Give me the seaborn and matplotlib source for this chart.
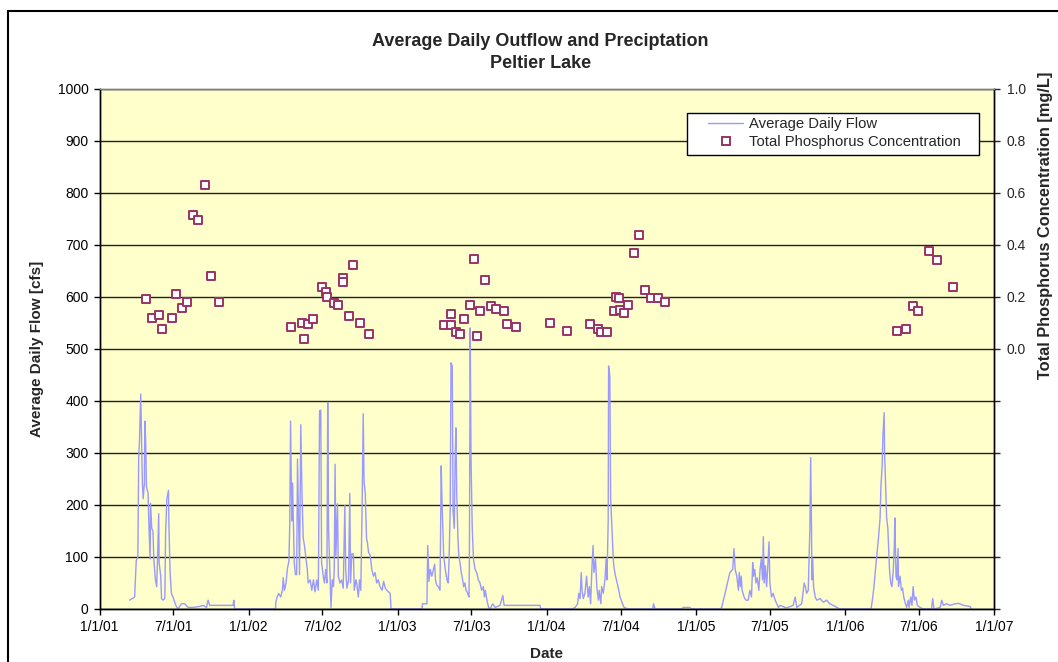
import numpy as np
import pandas as pd
import matplotlib
matplotlib.use('Agg')
import matplotlib.pyplot as plt
from matplotlib.lines import Line2D
from matplotlib.legend_handler import HandlerLine2D
from matplotlib.patches import Rectangle
import seaborn as sns

#%% data (days after 1/1/01)
start = pd.Timestamp('2001-01-01')

flow_days = [74, 86, 90, 94, 96, 98, 101, 103, 105, 107, 110, 111, 113, 115, 119, 121, 124, 125, 128, 131,
             133, 137, 140, 142, 145, 146, 150, 152, 155, 160, 162, 165, 169, 170, 173, 176, 180, 187, 192, 201,
             209, 217, 229, 246, 254, 262, 266, 270, 327, 329, 331,
             431, 432, 435, 439, 444, 448, 450, 453, 457, 460, 464, 466, 468, 470, 471, 473, 475, 477, 480,
             483, 485, 488, 490, 493, 496, 499, 502, 506, 509, 511, 516, 520, 524, 528, 532, 536, 539, 542, 544,
             548, 551, 554, 557, 559, 561, 565, 567, 570, 573, 575, 577, 579, 583, 585, 589, 593, 597, 601, 603,
             606, 610, 613, 615, 618, 622, 624, 628, 630, 634, 637, 640, 643, 646, 648, 651, 654, 656, 659, 663,
             667, 671, 675, 679, 683, 687, 692, 696, 700, 704, 708, 712, 714,
             790, 791, 802, 804, 807, 810, 814, 818, 821, 823, 826, 830, 834, 837, 839, 843, 847, 851, 854, 856,
             859, 861, 864, 866, 869, 871, 873, 875, 878, 880, 883, 886, 888, 892, 895, 898, 902, 905, 906, 908,
             910, 913, 916, 920, 924, 928, 932, 936, 940, 943, 945, 949, 953, 957, 963, 969, 981, 988, 991, 1030,
             1079, 1081,
             1158, 1165, 1171, 1174, 1177, 1180, 1182, 1185, 1189, 1193, 1197, 1200, 1203, 1206, 1209, 1211, 1215,
             1218, 1222, 1224, 1228, 1230, 1234, 1238, 1241, 1243, 1246, 1247, 1250, 1252, 1255, 1257, 1259, 1261,
             1264, 1268, 1272, 1275, 1278, 1281, 1285, 1295, 1355, 1357, 1361, 1426, 1430, 1446, 1450,
             1520, 1524, 1528, 1534, 1540, 1544, 1551, 1554, 1557, 1561, 1565, 1567, 1570, 1572, 1574, 1579, 1583,
             1589, 1593, 1597, 1600, 1602, 1605, 1608, 1611, 1615, 1618, 1621, 1624, 1626, 1628, 1631, 1634, 1637,
             1640, 1642, 1646, 1650, 1655, 1659, 1663, 1667, 1683, 1699, 1704, 1708, 1720, 1726, 1729, 1732, 1736,
             1740, 1742, 1744, 1745, 1747, 1749, 1753, 1757, 1765, 1773, 1781, 1789, 1797, 1806, 1814,
             1890, 1894, 1897, 1900, 1904, 1908, 1912, 1914, 1917, 1919, 1922, 1923, 1926, 1928, 1931, 1935, 1938,
             1941, 1944, 1947, 1948, 1951, 1953, 1956, 1957, 1961, 1964, 1967, 1970, 1974, 1977, 1981, 1983, 1987,
             1990, 1993, 1996, 2000, 2003, 2010, 2018, 2038, 2041, 2044, 2059, 2063, 2067, 2075, 2083, 2091, 2104,
             2116, 2132, 2136]

flow_cfs = [17, 23, 93, 100, 291, 325, 413, 328, 242, 212, 242, 361, 328, 235, 222, 162, 96, 203, 155, 149,
            96, 56, 43, 89, 183, 89, 63, 20, 17, 20, 149, 212, 228, 162, 70, 30, 23, 7, 0, 10,
            10, 3, 3, 5, 7, 3, 17, 7, 7, 17, 0,
            0, 13, 23, 30, 23, 36, 60, 36, 50, 76, 93, 162, 361, 242, 169, 242, 169, 89, 66,
            66, 288, 155, 66, 354, 222, 136, 122, 96, 76, 50, 56, 36, 56, 33, 56, 36, 381, 382, 89,
            63, 50, 76, 50, 397, 155, 50, 3, 56, 43, 76, 278, 103, 202, 63, 50, 56, 40, 199, 76,
            40, 56, 222, 50, 106, 106, 36, 56, 50, 23, 56, 36, 182, 375, 245, 222, 136, 129, 109, 103,
            76, 63, 70, 50, 56, 43, 36, 53, 40, 36, 33, 30, 0,
            0, 10, 10, 122, 53, 76, 63, 76, 86, 56, 46, 43, 36, 275, 205, 103, 76, 56, 50, 89,
            189, 473, 467, 189, 155, 288, 348, 222, 136, 103, 89, 70, 63, 43, 50, 36, 30, 23, 89, 540,
            288, 155, 96, 76, 70, 56, 50, 36, 43, 23, 36, 17, 3, 0, 10, 3, 7, 26, 7, 7,
            7, 0,
            0, 3, 10, 30, 20, 70, 36, 20, 30, 63, 23, 43, 10, 76, 122, 70, 96,
            43, 17, 36, 10, 43, 30, 56, 96, 56, 169, 467, 447, 212, 155, 122, 89, 76,
            63, 50, 36, 23, 17, 10, 3, 0, 0, 10, 0, 0, 3, 3, 0,
            0, 3, 16, 36, 56, 70, 76, 116, 76, 63, 36, 70, 43, 63, 36, 23, 17,
            17, 36, 23, 89, 63, 76, 50, 60, 36, 76, 96, 56, 139, 50, 83, 43, 83,
            129, 50, 23, 30, 17, 10, 3, 7, 2, 7, 23, 3, 10, 50, 43, 30, 36,
            155, 291, 155, 56, 96, 43, 23, 17, 20, 13, 17, 10, 7, 3, 0,
            0, 23, 43, 70, 103, 136, 175, 235, 275, 334, 377, 301, 222, 175, 155, 76, 50,
            43, 70, 122, 175, 63, 56, 116, 43, 63, 36, 40, 23, 10, 3, 17, 3, 23,
            7, 43, 17, 23, 7, 3, 0, 0, 20, 0, 3, 17, 7, 10, 7, 9, 11,
            7, 5, 0]

tp_days = [113, 129, 146, 154, 178, 187, 201, 214, 228, 241, 259, 273, 293,
           469, 496, 500, 510, 524, 544, 555, 558, 575, 584, 596, 596, 612, 622, 639, 660,
           845, 860, 860, 874, 883, 894, 907, 918, 924, 931, 944, 958, 971, 992, 999, 1019,
           1104, 1144, 1202, 1222, 1228, 1242, 1259, 1266, 1273, 1276, 1284, 1294, 1310, 1321,
           1337, 1351, 1368, 1384,
           1954, 1975, 1992, 2005, 2032, 2052, 2090]

tp_conc = [0.19, 0.12, 0.13, 0.075, 0.12, 0.21, 0.155, 0.18, 0.515, 0.495, 0.63, 0.28, 0.18,
           0.085, 0.10, 0.037, 0.095, 0.116, 0.238, 0.219, 0.20, 0.176, 0.17, 0.27, 0.256, 0.127, 0.32, 0.10, 0.058,
           0.09, 0.132, 0.09, 0.064, 0.058, 0.113, 0.17, 0.346, 0.048, 0.144, 0.265, 0.165, 0.154, 0.144, 0.095, 0.085,
           0.10, 0.069, 0.095, 0.074, 0.064, 0.064, 0.144, 0.20, 0.196, 0.15, 0.139, 0.17, 0.366, 0.436,
           0.224, 0.196, 0.196, 0.18,
           0.069, 0.074, 0.166, 0.144, 0.377, 0.34, 0.238]

flow = pd.DataFrame({'Date': start + pd.to_timedelta(flow_days, unit='D'), 'Flow': flow_cfs})
tp = pd.DataFrame({'Date': start + pd.to_timedelta(tp_days, unit='D'), 'TP': tp_conc})

#%% plot
sns.set_theme(style='ticks')
plt.rcParams['font.family'] = ['Liberation Sans', 'DejaVu Sans']

line_col = '#9999FF'
mark_col = '#993366'

fig = plt.figure(figsize=(10.58, 6.62), dpi=100)
ax = fig.add_axes([99.5 / 1058, 53 / 662, 894.5 / 1058, 520.5 / 662])
ax.set_facecolor('#FFFFCC')

sns.lineplot(data=flow, x='Date', y='Flow', ax=ax, color=line_col, lw=1,
             estimator=None, sort=False, legend=False)

ax.set_ylim(0, 1000)
ax.set_yticks(range(0, 1001, 100))
ax.set_xlim(pd.Timestamp('2001-01-01'), pd.Timestamp('2007-01-01'))
xt = pd.date_range('2001-01-01', '2007-01-01', freq='6MS')
ax.set_xticks(xt)
ax.set_xticklabels([f'{d.month}/{d.day}/{d.strftime("%y")}' for d in xt])
ax.yaxis.grid(True, color='#222222', lw=1)
ax.set_axisbelow(True)
ax.tick_params(axis='both', direction='out', length=4, width=1, labelsize=10, colors='black', pad=4)
ax.set_xlabel('Date', fontsize=11, fontweight='bold', labelpad=9)
ax.set_ylabel('Average Daily Flow [cfs]', fontsize=11, fontweight='bold')
ax.yaxis.set_label_coords(-0.062, 0.5)

ax2 = ax.twinx()
sns.scatterplot(data=tp, x='Date', y='TP', ax=ax2, marker='s', s=40, color='white',
                edgecolor=mark_col, linewidth=1.4, legend=False, zorder=3)
ax2.set_ylim(-1.0, 1.0)
rt = np.linspace(-1.0, 1.0, 11)
ax2.set_yticks(rt)
ax2.set_yticklabels([f'{v:.1f}' if v > -0.01 else '' for v in rt])
ax2.tick_params(axis='y', direction='out', length=4, width=1, labelsize=10, pad=5)
ax2.set_ylabel('Total Phosphorus Concentration [mg/L]', fontsize=11.8, fontweight='bold')
ax2.yaxis.set_label_coords(1.0495, 0.737)

for a in (ax, ax2):
    for s in a.spines.values():
        s.set_color('black')
        s.set_linewidth(1)
    a.spines['top'].set_color('#808080')

# legend box drawn separately so the padding matches
ax2.add_patch(Rectangle((687 / 1058, 1 - 155 / 662), 292 / 1058, 42 / 662, transform=fig.transFigure,
                        facecolor='white', edgecolor='black', lw=1, zorder=4, clip_on=False))
handles = [Line2D([], [], color=line_col, lw=1),
           Line2D([], [], marker='s', ls='none', mfc='white', mec=mark_col, mew=1.4, ms=6)]
leg = ax2.legend(handles, ['Average Daily Flow', 'Total Phosphorus Concentration'],
                 loc='upper left', bbox_to_anchor=(687 / 1058, 1 - 114 / 662),
                 bbox_transform=fig.transFigure, borderaxespad=0, fontsize=10.7,
                 frameon=False, handlelength=3.6, labelspacing=0.3, borderpad=0.2,
                 handletextpad=0.35, handler_map={Line2D: HandlerLine2D(xpad=1.2)})
leg.set_zorder(5)

fig.text(0.511, 1 - 42 / 662, 'Average Daily Outflow and Preciptation', ha='center', va='center',
         fontsize=13, fontweight='bold')
fig.text(0.511, 1 - 63 / 662, 'Peltier Lake', ha='center', va='center', fontsize=13, fontweight='bold')

# outer chart border
fig.patches.append(Rectangle((8 / 1058, -0.1), 1.2, 1.1 - 11 / 662, transform=fig.transFigure,
                             fill=False, edgecolor='black', lw=1.5))

fig.savefig('out.png', dpi=100)
